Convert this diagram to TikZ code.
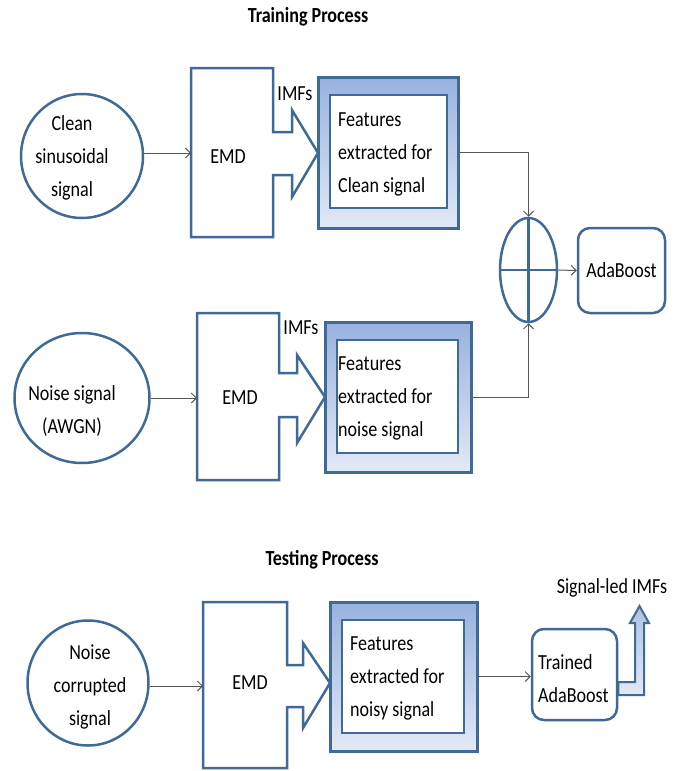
\documentclass[tikz,border=0pt]{standalone}
\usepackage{fontspec}
\setmainfont{Carlito}[FakeStretch=0.84]
\usetikzlibrary{shapes.geometric,arrows.meta}
\definecolor{bd}{HTML}{3F6A98}
\definecolor{ftop}{HTML}{98B2DE}
\definecolor{fbot}{HTML}{E2E9F5}
\definecolor{cn}{HTML}{555555}
\tikzset{
  txt/.style={font=\fontsize{21.5}{33}\selectfont, align=center, inner sep=0pt},
  ttl/.style={font=\bfseries\fontsize{21.5}{24}\selectfont, inner sep=0pt},
  sig/.style={draw=bd, line width=2.5pt, ellipse, inner sep=0pt},
  blk/.style={draw=bd, line width=2.5pt, line join=miter, fill=white},
  featout/.style={draw=bd, line width=3pt, rectangle, inner sep=0pt, top color=ftop, bottom color=fbot},
  featin/.style={draw=bd, line width=2.5pt, rectangle, inner sep=0pt, fill=white},
  rbox/.style={draw=bd, line width=2.5pt, rectangle, rounded corners=12pt, inner sep=0pt, fill=white},
  conn/.style={draw=cn, line width=1pt, -{Straight Barb[length=5pt,width=10pt]}},
}
\begin{document}
\begin{tikzpicture}[x=1pt,y=-1pt]
\useasboundingbox (0,0) rectangle (691,771);

% titles
\node[ttl] (t1) at (308,17) {Training Process};
\node[ttl] (t2) at (322,560) {Testing Process};

% ---------- row 1 ----------
\node[sig, minimum width=122, minimum height=124] (c1) at (82,156) {};
\node[txt] (c1t) at (72,158) {Clean\\sinusoidal\\signal};
\draw[blk] (191,68) -- (273,68) -- (273,132) -- (292,132) -- (292,110) -- (318,153)
  -- (292,197) -- (292,175) -- (273,175) -- (273,237) -- (191,237) -- cycle;
\coordinate (e1w) at (191,153);
\node[txt] (e1t) at (228,157) {EMD};
\node[txt] (i1) at (295,94) {IMFs};
\node[featout, minimum width=140, minimum height=151] (fA) at (388,152.5) {};
\node[featin, minimum width=117, minimum height=113] (fAi) at (388.5,151.5) {};
\node[txt, align=left, anchor=west] (fAt) at (338,154) {Features\\extracted for\\Clean signal};
\draw[conn] (e1w -| c1.east) -- (e1w);

% ---------- row 2 ----------
\node[sig, minimum width=135, minimum height=130] (c2) at (82,398) {};
\node[txt] (c2t) at (72,411) {Noise signal\\(AWGN)};
\draw[blk] (197,313) -- (279,313) -- (279,373) -- (297,373) -- (297,355) -- (325,397)
  -- (297,443) -- (297,417) -- (279,417) -- (279,480) -- (197,480) -- cycle;
\coordinate (e2w) at (197,398);
\node[txt] (e2t) at (240,398) {EMD};
\node[txt] (i2) at (301,328) {IMFs};
\node[featout, minimum width=146, minimum height=150] (fB) at (398,397) {};
\node[featin, minimum width=121, minimum height=113] (fBi) at (397.5,396.5) {};
\node[txt, align=left, anchor=west] (fBt) at (338,398) {Features\\extracted for\\noise signal};
\draw[conn] (c2.east) -- (e2w);

% ---------- sum and AdaBoost ----------
\node[sig, minimum width=57, minimum height=104] (sum) at (528.5,270) {};
\draw[bd, line width=2.5pt] (sum.north) -- (sum.south) (sum.west) -- (sum.east);
\node[rbox, minimum width=87, minimum height=85] (ada) at (621.5,270.5) {};
\node[txt] (adat) at (621.5,270) {AdaBoost};
\draw[conn] (fA.east) -| (sum.north);
\draw[conn] (fB.east) -| (sum.south);
\draw[conn] (sum.east) -- (ada.west);

% ---------- testing row ----------
\node[sig, minimum width=121, minimum height=125] (c3) at (88,683) {};
\node[txt] (c3t) at (90,687) {Noise\\corrupted\\signal};
\draw[blk] (203,602) -- (287,602) -- (287,665) -- (303,665) -- (303,643) -- (330,683)
  -- (303,728) -- (303,707) -- (287,707) -- (287,768) -- (203,768) -- cycle;
\coordinate (e3w) at (203,686);
\node[txt] (e3t) at (250,683) {EMD};
\node[featout, minimum width=147, minimum height=149] (fC) at (403.5,676.5) {};
\node[featin, minimum width=122, minimum height=113] (fCi) at (403,676.5) {};
\node[txt, align=left, anchor=west] (fCt) at (350,678) {Features\\extracted for\\noisy signal};
\draw[conn] (e3w -| c3.east) -- (e3w);

\node[rbox, minimum width=85, minimum height=91] (tr) at (574.5,674.5) {};
\node[txt, align=left, anchor=west] (trt) at (538,679) {Trained\\AdaBoost};
\draw[conn] (fC.east) -- (fC.east -| tr.west);

\draw[draw=bd, line width=2pt, line join=miter, top color=ftop!80!white, bottom color=fbot]
  (tr.east |- 0,682) -- (635,682) -- (635,623) -- (630,623) -- (639.5,606) -- (649,623)
  -- (644,623) -- (644,695) -- (tr.east |- 0,695) -- cycle;
\node[txt] (out) at (612,588) {Signal-led IMFs};
\end{tikzpicture}
\end{document}
